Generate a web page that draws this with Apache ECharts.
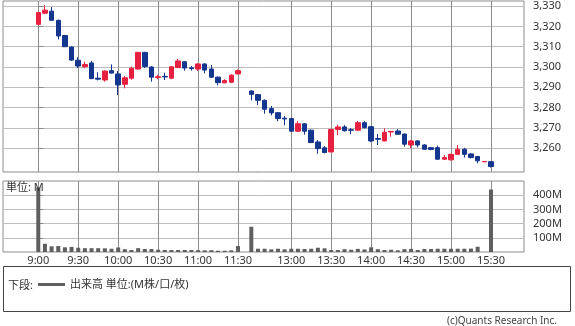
<!DOCTYPE html>
<html><head><meta charset="utf-8">
<script src="https://cdn.jsdelivr.net/npm/echarts@6/dist/echarts.min.js"></script>
<style>html,body{margin:0;padding:0;background:#fff}#c{width:575px;height:326px}</style>
</head><body><div id="c"></div>
<script>
const times = ['9:00','9:05','9:10','9:15','9:20','9:25','9:30','9:35','9:40','9:45','9:50','9:55',
  '10:00','10:05','10:10','10:15','10:20','10:25','10:30','10:35','10:40','10:45','10:50','10:55',
  '11:00','11:05','11:10','11:15','11:20','11:25','11:30','',
  '12:30','12:35','12:40','12:45','12:50','12:55',
  '13:00','13:05','13:10','13:15','13:20','13:25','13:30','13:35','13:40','13:45','13:50','13:55',
  '14:00','14:05','14:10','14:15','14:20','14:25','14:30','14:35','14:40','14:45','14:50','14:55',
  '15:00','15:05','15:10','15:15','15:20','15:25','15:30'];
const opens  = [3321,3326.5,3327.5,3323,3315.5,3309.8,3303.3,3300.2,3302,3294.5,3293.6,3298.2,
  3296.6,3291.5,3294.5,3299,3307.2,3300,3294.8,3295.4,3294.5,3299.7,3302.6,3299.6,
  3299,3301.5,3299,3295,3292.2,3292.5,3296.6,null,
  3288.2,3286.4,3283.6,3279.5,3277.5,3274.8,
  3274.6,3268.4,3272,3268.9,3263.1,3260.2,3258.2,3269.2,3270.5,3269.1,3268.9,3272.6,
  3270.6,3264.8,3263.6,3268,3268.5,3267,3261.6,3263.6,3261.6,3260.3,3260.3,3254.6,
  3254.3,3257,3259.5,3257.2,3255.9,3253.3,3253.4];
const closes = [3326.8,3328,3323,3315.3,3310,3303.4,3300.5,3301.2,3294.3,3294,3298,3297,
  3291.2,3294.7,3299.4,3307.2,3300.2,3295,3295.2,3295.1,3300.1,3303,3299.5,3299.2,
  3301.5,3298.5,3295,3292.3,3293.3,3296,3298.2,null,
  3286.5,3283.6,3279.2,3277.4,3274.6,3274.4,
  3268.4,3272.1,3268.4,3262.8,3259.8,3257.9,3269.2,3270.5,3268.6,3268.8,3272.6,3270.1,
  3263.6,3264.4,3267.9,3268.3,3266.9,3262,3263.6,3261.6,3259.5,3259.4,3254.6,3255.4,
  3257,3259.5,3257,3255.4,3253.8,3253.5,3251];
const lows   = [3320.5,3326,3322.8,3313.6,3309.8,3303,3299.5,3299.4,3294,3293.4,3292.8,3296.8,
  3286.2,3289.5,3293.7,3298.8,3299.5,3292.8,3294,3293.6,3294,3299.5,3298.2,3298.2,
  3298,3296.9,3294.6,3291,3292,3292.2,3296.4,null,
  3283.6,3281.2,3277,3276.2,3273.3,3271.3,
  3268,3268,3266.7,3262.5,3257.3,3257.5,3258,3266.4,3268.2,3266.9,3268.6,3269.8,
  3263,3261.6,3263.4,3265.7,3266.7,3260.8,3260,3260.4,3259.2,3259,3254.3,3254.4,
  3254,3256.8,3255.4,3255,3252.6,3253.2,3250.5];
const highs  = [3327.2,3330.5,3329.5,3323.3,3315.8,3310.2,3304.8,3302.6,3303,3297.4,3298.3,3301.3,
  3298,3295.5,3300.2,3307.5,3307.5,3300.4,3296.2,3297.2,3300.5,3304,3303,3300.5,
  3301.8,3301.8,3301,3295.4,3294,3296.4,3298.8,null,
  3288.5,3286.7,3284,3280.8,3277.8,3275.8,
  3275,3273.3,3272.4,3269.2,3264,3261,3269.5,3271.6,3271.4,3270,3273.4,3273.3,
  3271,3267,3269.8,3268.6,3269.4,3267.2,3264,3264,3262,3260.6,3261.3,3256.7,
  3257.3,3261.6,3260.2,3257.6,3256.2,3253.6,3253.5];
const volumes = [455,58,40,42,33,36,30,27,27,27,26,23,
  32,20,14,27,21,21,16,14,14,14,14,14,
  13,12,13,9,9,12,42,null,
  178,23,23,19,23,19,
  23,23,21,23,30,26,14,14,20,16,22,18,
  33,20,14,16,12,20,22,14,21,21,23,23,
  23,23,23,24,37,0,440];
const timeTickLabels = ['9:00','9:30','10:00','10:30','11:00','11:30','13:00','13:30','14:00','14:30','15:00','15:30'];
const priceTicks = [3260,3270,3280,3290,3300,3310,3320,3330];
const volumeTicks = [100,200,300,400];

const FONT = '"Noto Sans", "Noto Sans CJK JP", sans-serif';
const timeTickIdx = timeTickLabels.map(t => times.indexOf(t));
const candles = [], vols = [];
times.forEach((t, i) => {
  if (opens[i] != null) candles.push([i, opens[i], closes[i], lows[i], highs[i]]);
  if (volumes[i] != null) vols.push([i, volumes[i]]);
});

const chart = echarts.init(document.getElementById('c'), null, {renderer: 'canvas'});
const xCommon = (gi, showLabel) => ({
  type: 'value', gridIndex: gi, min: -5.3, max: 72.96,
  axisLine: {show: false},
  axisTick: {show: false, customValues: timeTickIdx},
  axisLabel: {show: showLabel, customValues: timeTickIdx, formatter: v => times[v],
    fontSize: 11, color: '#333', margin: 3, fontFamily: FONT},
  splitLine: {show: true, lineStyle: {color: '#8c8c8c', width: 1}}
});
chart.setOption({
  animation: false,
  backgroundColor: '#fff',
  textStyle: {fontFamily: FONT},
  grid: [
    {left: 3, top: 1, width: 521, height: 171, show: true, borderColor: '#8c8c8c', borderWidth: 1, backgroundColor: '#fff'},
    {left: 3, top: 181, width: 521, height: 71, show: true, borderColor: '#8c8c8c', borderWidth: 1, backgroundColor: '#fff'}
  ],
  xAxis: [xCommon(0, false), xCommon(1, true)],
  yAxis: [
    {type: 'value', gridIndex: 0, position: 'right', min: 3248.3, max: 3332.5, scale: true,
      axisLine: {show: false},
      axisTick: {show: true, length: 5, customValues: priceTicks, lineStyle: {color: '#888'}},
      axisLabel: {customValues: priceTicks, formatter: v => Number(v).toLocaleString('en-US'),
        margin: 9, fontSize: 11, color: '#333', fontFamily: FONT},
      splitLine: {show: true, lineStyle: {color: '#bdbdbd'}}},
    {type: 'value', gridIndex: 1, position: 'right', min: 0, max: 500,
      axisLine: {show: false},
      axisTick: {show: true, length: 5, customValues: volumeTicks, lineStyle: {color: '#888'}},
      axisLabel: {customValues: volumeTicks, formatter: v => v + 'M',
        margin: 9, fontSize: 11, color: '#333', fontFamily: FONT},
      splitLine: {show: true, lineStyle: {color: '#bdbdbd'}}}
  ],
  legend: {
    data: ['出来高'], left: 38, top: 279, padding: 0, icon: 'rect',
    itemWidth: 27, itemHeight: 3, selectedMode: false,
    formatter: () => '出来高 単位:(M株/口/枚)',
    textStyle: {fontSize: 11, color: '#333', fontFamily: FONT}
  },
  series: [
    {type: 'candlestick', name: '株価', xAxisIndex: 0, yAxisIndex: 0, barWidth: 5,
      encode: {x: 0, y: [1, 2, 3, 4]},
      data: candles,
      itemStyle: {color: '#e8203f', color0: '#15368e', borderColor: '#e8203f', borderColor0: '#15368e', borderWidth: 1}},
    {type: 'bar', name: '出来高', xAxisIndex: 1, yAxisIndex: 1, barWidth: 4,
      data: vols, itemStyle: {color: '#5f5f5f'}}
  ],
  graphic: [
    {type: 'rect', silent: true, shape: {x: 3.5, y: 266.5, width: 567, height: 45},
      style: {fill: 'none', stroke: '#444', lineWidth: 1}},
    {type: 'text', x: 8, y: 286, silent: true,
      style: {text: '下段:', fontSize: 11, fill: '#333', fontFamily: FONT, verticalAlign: 'middle'}},
    {type: 'text', x: 6, y: 188, z: 100, silent: true,
      style: {text: '単位: M', fontSize: 11, fill: '#333', fontFamily: FONT, verticalAlign: 'middle'}},
    {type: 'text', x: 557, y: 321, silent: true,
      style: {text: '(c)Quants Research Inc.', fontSize: 10, fill: '#444', fontFamily: FONT, align: 'right', verticalAlign: 'middle'}}
  ]
});
</script></body></html>
